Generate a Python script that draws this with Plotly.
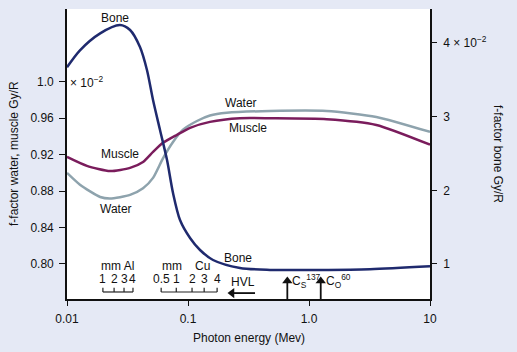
import numpy as np
import plotly.graph_objects as go

# ---- data ----
bone_E = [0.01, 0.0128, 0.0188, 0.0274, 0.0332, 0.0401, 0.0458, 0.0514, 0.0587,
          0.0671, 0.0752, 0.0859, 0.104, 0.1257, 0.161, 0.269, 0.476, 1.23, 3.19, 10.0]
bone_f = [3.67, 3.90, 4.13, 4.243, 4.175, 3.944, 3.632, 3.225, 2.818,
          2.411, 1.963, 1.597, 1.353, 1.19, 1.054, 0.946, 0.92, 0.92, 0.93, 0.97]

water_E = [0.01, 0.0128, 0.0188, 0.0227, 0.0332, 0.0425, 0.0514, 0.0621, 0.0752,
           0.091, 0.1186, 0.152, 0.209, 0.476, 1.4, 3.6, 10.0]
water_f = [0.900, 0.887, 0.8735, 0.8718, 0.8758, 0.8830, 0.8945, 0.916, 0.934,
           0.9475, 0.9570, 0.9630, 0.966, 0.968, 0.968, 0.9615, 0.945]

muscle_E = [0.01, 0.0146, 0.0227, 0.0332, 0.0425, 0.0514, 0.0621, 0.0811, 0.104,
            0.152, 0.269, 0.476, 1.4, 3.6, 10.0]
muscle_f = [0.9176, 0.9077, 0.902, 0.9055, 0.912, 0.923, 0.933, 0.9418, 0.9495,
            0.956, 0.960, 0.960, 0.959, 0.9527, 0.931]

# HVL scales (photon energy equivalent of each thickness)
al_labels = ["1", "2", "3", "4"]
al_E = [0.0198, 0.0245, 0.0296, 0.0351]
cu_labels = ["0.5", "1", "2", "3", "4"]
cu_E = [0.060, 0.080, 0.108, 0.136, 0.174]

# HVL arrow (energy from -> to, pointing to lower energy)
hvl_arrow_E = [0.358, 0.231]

# isotope markers
iso_E = [0.662, 1.25]
iso_labels = ["C<sub>S</sub><sup>137</sup>", "C<sub>O</sub><sup>60</sup>"]

x_ticks = [0.01, 0.1, 1, 10]
x_ticktext = ["0.01", "0.1", "1.0", "10"]
left_ticks = [0.80, 0.84, 0.88, 0.92, 0.96, 1.0]
left_ticktext = ["0.80", "0.84", "0.88", "0.92", "0.96", "1.0"]
right_ticks = [1, 2, 3, 4]
right_ticktext = ["1", "2", "3", "4 \u00d7 10<sup>\u22122</sup>"]

BONE = "#1f2a6e"
WATER = "#8ea3ad"
MUSCLE = "#7a1c5c"
INK = "#111111"
FONT = "Liberation Sans, Arial, sans-serif"
FS = 12
Y_MIN = 0.7615

fig = go.Figure()
fig.add_trace(go.Scatter(x=water_E, y=water_f, mode="lines",
                         line=dict(color=WATER, width=2.5, shape="spline", smoothing=0.6)))
fig.add_trace(go.Scatter(x=muscle_E, y=muscle_f, mode="lines",
                         line=dict(color=MUSCLE, width=2.5, shape="spline", smoothing=0.6)))
fig.add_trace(go.Scatter(x=bone_E, y=bone_f, mode="lines", yaxis="y2",
                         line=dict(color=BONE, width=2.5, shape="spline", smoothing=0.8)))

# HVL bracket scales
base_y = 0.7692
tick_y = 0.7738
for xs in (al_E, cu_E):
    bx, by = [xs[0], xs[-1], None], [base_y, base_y, None]
    for e in xs:
        bx += [e, e, None]
        by += [base_y, tick_y, None]
    fig.add_trace(go.Scatter(x=bx, y=by, mode="lines",
                             line=dict(color="#222", width=1.2)))

# HVL arrow
arrow_y = 0.768
fig.add_trace(go.Scatter(x=hvl_arrow_E, y=[arrow_y, arrow_y], mode="lines",
                         line=dict(color=INK, width=1.8)))
fig.add_trace(go.Scatter(x=[hvl_arrow_E[1]], y=[arrow_y], mode="markers",
                         marker=dict(symbol="triangle-left", size=9, color=INK)))

# isotope arrows
iso_tip = 0.7813
for e in iso_E:
    fig.add_trace(go.Scatter(x=[e, e], y=[Y_MIN, iso_tip], mode="lines",
                             line=dict(color=INK, width=1.8)))
fig.add_trace(go.Scatter(x=iso_E, y=[iso_tip] * len(iso_E), mode="markers",
                         marker=dict(symbol="triangle-up", size=9, color=INK)))

annotations = []
num_y = 0.7835
for lab, e in list(zip(al_labels, al_E)) + list(zip(cu_labels, cu_E)):
    annotations.append(dict(x=np.log10(e), y=num_y, text=lab, showarrow=False))
annotations.append(dict(x=np.log10(np.sqrt(al_E[0] * al_E[-1])), y=0.7978, text="mm Al",
                        showarrow=False))
annotations.append(dict(x=np.log10(0.0737), y=0.7978, text="mm", showarrow=False))
annotations.append(dict(x=np.log10(0.131), y=0.7978, text="Cu", showarrow=False))
annotations.append(dict(x=np.log10(0.285), y=0.780, text="HVL", showarrow=False))
for e, lab in zip(iso_E, iso_labels):
    annotations.append(dict(x=np.log10(e), y=0.7815, xanchor="left", xshift=3,
                            text=lab, showarrow=False))

# curve labels
curve_labels = [
    ("Bone", 0.0249, 1.0703),
    ("Water", 0.274, 0.9769),
    ("Muscle", 0.313, 0.9495),
    ("Muscle", 0.0274, 0.9209),
    ("Water", 0.0254, 0.8604),
    ("Bone", 0.259, 0.8066),
]
for t, e, v in curve_labels:
    annotations.append(dict(x=np.log10(e), y=v, text=t, showarrow=False))

annotations.append(dict(x=-2, y=1.0, xanchor="left", xshift=1,
                        text="\u00d7 10<sup>\u22122</sup>", showarrow=False))

# axis titles
annotations.append(dict(xref="paper", yref="paper", x=0.5, y=0, yanchor="middle",
                        yshift=-39, text="Photon energy (Mev)", showarrow=False))
annotations.append(dict(xref="paper", yref="paper", x=0, y=0.5, xanchor="center",
                        xshift=-53, textangle=-90, text="f-factor water, muscle Gy/R",
                        showarrow=False))
annotations.append(dict(xref="paper", yref="paper", x=1, y=0.5, xanchor="center",
                        xshift=68, textangle=90, text="f-factor bone Gy/R",
                        showarrow=False))

fig.update_layout(
    width=517, height=352,
    margin=dict(l=67, r=87, t=9, b=53),
    paper_bgcolor="#e5e9f5",
    plot_bgcolor="#ffffff",
    showlegend=False,
    font=dict(family=FONT, size=FS, color=INK),
    xaxis=dict(type="log", range=[-2, 1], tickvals=x_ticks, ticktext=x_ticktext,
               showgrid=False, zeroline=False, showline=True, linecolor=INK,
               linewidth=1.6, ticks="outside", ticklen=5, tickcolor=INK,
               ticklabelstandoff=3, tickfont=dict(size=FS)),
    yaxis=dict(range=[Y_MIN, 1.080], tickvals=left_ticks, ticktext=left_ticktext,
               showgrid=False, zeroline=False, showline=True, linecolor=INK,
               linewidth=1.6, ticks="outside", ticklen=6, tickcolor=INK,
               ticklabelstandoff=3, tickfont=dict(size=FS)),
    yaxis2=dict(range=[0.525, 4.46], overlaying="y", side="right",
                tickvals=right_ticks, ticktext=right_ticktext,
                showgrid=False, zeroline=False, showline=True, linecolor=INK,
                linewidth=1.6, ticks="outside", ticklen=5, tickcolor=INK,
                ticklabelstandoff=4, tickfont=dict(size=FS)),
    annotations=annotations,
)

fig.write_html("out.html")
